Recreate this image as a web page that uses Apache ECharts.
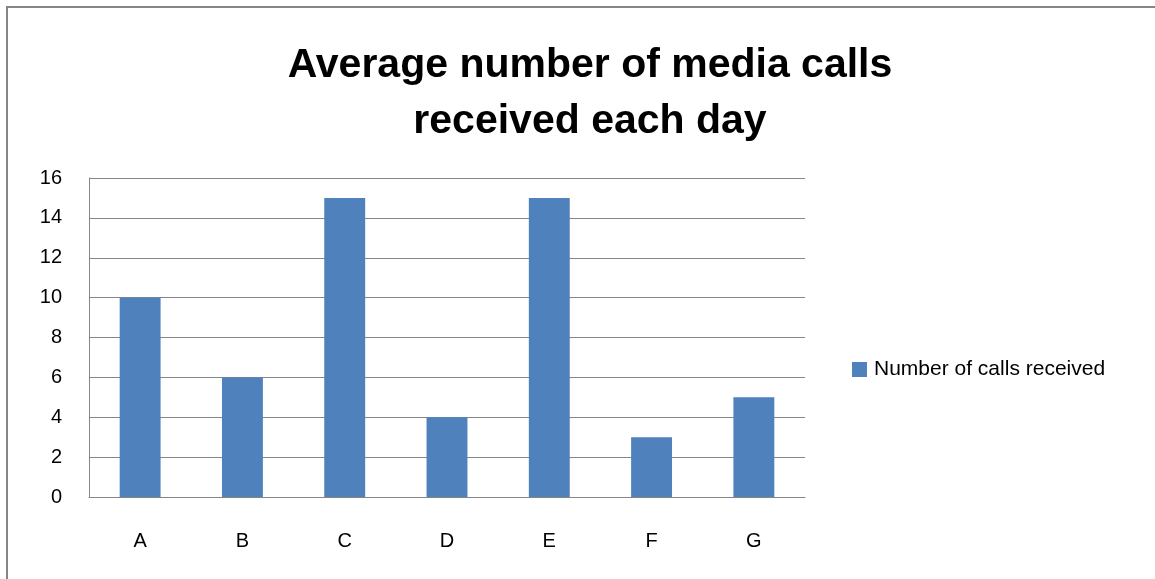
<!DOCTYPE html>
<html>
<head>
<meta charset="utf-8">
<script src="https://cdn.jsdelivr.net/npm/echarts@6/dist/echarts.min.js"></script>
<style>
  html, body { margin: 0; padding: 0; background: #fff; }
  #chart { width: 1155px; height: 579px; }
</style>
</head>
<body>
<div id="chart"></div>
<script>
const categories = ['A', 'B', 'C', 'D', 'E', 'F', 'G'];
const callsReceived = [10, 6, 15, 4, 15, 3, 5];
const seriesName = 'Number of calls received';
const titleLines = ['Average number of media calls', 'received each day'];

const chart = echarts.init(document.getElementById('chart'));
const gray = '#868686';
const fontFamily = '"Liberation Sans", Arial, sans-serif';

chart.setOption({
  animation: false,
  backgroundColor: '#fff',
  title: {
    text: titleLines.join('\n'),
    left: 585,
    top: 33,
    textAlign: 'center',
    textStyle: {
      fontFamily: fontFamily,
      fontWeight: 'bold',
      fontSize: 41,
      lineHeight: 56,
      color: '#000'
    }
  },
  graphic: [{
    type: 'rect',
    shape: { x: 7, y: 7, width: 1200, height: 620 },
    style: { fill: 'none', stroke: gray, lineWidth: 2 },
    silent: true
  }],
  legend: {
    data: [seriesName],
    left: 847,
    top: 354,
    itemWidth: 15,
    itemHeight: 15,
    itemGap: 8,
    icon: 'rect',
    textStyle: { fontFamily: fontFamily, fontSize: 21, color: '#000', padding: [0, 0, 0, 2] }
  },
  grid: { left: 89, right: 350, top: 178, bottom: 82 },
  xAxis: {
    type: 'category',
    data: categories,
    axisLine: { lineStyle: { color: gray, width: 1 } },
    axisTick: { show: false },
    axisLabel: { color: '#000', fontFamily: fontFamily, fontSize: 20, margin: 34 }
  },
  yAxis: {
    type: 'value',
    min: 0,
    max: 16,
    interval: 2,
    axisLine: { show: true, lineStyle: { color: gray, width: 1 } },
    axisTick: { show: false },
    splitLine: { lineStyle: { color: gray, width: 1 } },
    axisLabel: { color: '#000', fontFamily: fontFamily, fontSize: 20, margin: 27 }
  },
  series: [{
    name: seriesName,
    type: 'bar',
    data: callsReceived,
    barWidth: '40%',
    itemStyle: { color: '#4f81bd' }
  }]
});
</script>
</body>
</html>
